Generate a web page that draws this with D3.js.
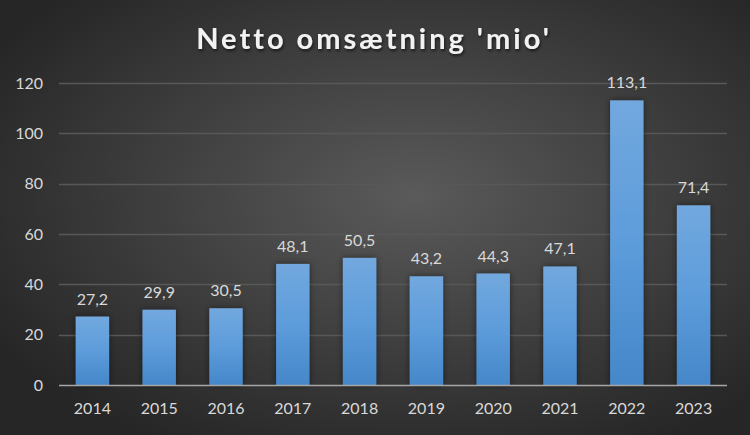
<!DOCTYPE html>
<html><head><meta charset="utf-8">
<script src="https://cdn.jsdelivr.net/npm/d3@7"></script>
<style>html,body{margin:0;padding:0;background:#333;}svg{display:block;}</style>
</head><body>
<script>
const years = ["2014","2015","2016","2017","2018","2019","2020","2021","2022","2023"];
const values = [27.2, 29.9, 30.5, 48.1, 50.5, 43.2, 44.3, 47.1, 113.1, 71.4];
const yTicks = [0, 20, 40, 60, 80, 100, 120];
const title = "Netto omsætning 'mio'";

const W = 750, H = 435;
const m = {left: 59, right: 23, top: 83, bottom: 50};
const svg = d3.select("body").append("svg").attr("width", W).attr("height", H);
const defs = svg.append("defs");
const rg = defs.append("radialGradient").attr("id","bg").attr("cx","55%").attr("cy","45%").attr("r","65%");
rg.append("stop").attr("offset","0%").attr("stop-color","#5a5a5a");
rg.append("stop").attr("offset","100%").attr("stop-color","#262626");
const bg = defs.append("linearGradient").attr("id","bar").attr("x1",0).attr("y1",0).attr("x2",0).attr("y2",1);
bg.append("stop").attr("offset","0%").attr("stop-color","#72a8de");
bg.append("stop").attr("offset","50%").attr("stop-color","#5d9cdb");
bg.append("stop").attr("offset","100%").attr("stop-color","#4587c9");
const f = defs.append("filter").attr("id","sh").attr("x","-30%").attr("y","-10%").attr("width","160%").attr("height","120%");
f.append("feDropShadow").attr("dx",0).attr("dy",0).attr("stdDeviation",3).attr("flood-color","#000").attr("flood-opacity",0.5);
const tf = defs.append("filter").attr("id","tsh");
tf.append("feDropShadow").attr("dx",1).attr("dy",2).attr("stdDeviation",1.5).attr("flood-color","#000").attr("flood-opacity",0.6);

svg.append("rect").attr("width",W).attr("height",H).attr("fill","url(#bg)");

const x = d3.scaleBand().domain(years).range([m.left, W - m.right]).paddingInner(0.5).paddingOuter(0.25);
const y = d3.scaleLinear().domain([0,120]).range([H - m.bottom, m.top]);

// grid
svg.append("g").selectAll("line").data(yTicks.filter(d=>d>0)).join("line")
  .attr("x1", m.left).attr("x2", W - m.right)
  .attr("y1", d=>Math.round(y(d))+0.5).attr("y2", d=>Math.round(y(d))+0.5)
  .attr("stroke","#585858").attr("stroke-width",1.3);

// y axis labels
const yAxis = d3.axisLeft(y).tickValues(yTicks).tickSize(0).tickPadding(16);
const ya = svg.append("g").attr("transform",`translate(${m.left},0)`).call(yAxis);
ya.select(".domain").remove();
ya.selectAll("text").attr("fill","#d9d9d9").attr("font-family","Lato, 'Open Sans', sans-serif").attr("font-size",16);

// bars
svg.append("g").selectAll("rect").data(values).join("rect")
  .attr("x",(d,i)=>x(years[i])).attr("width",x.bandwidth())
  .attr("y",d=>y(d)).attr("height",d=>y(0)-y(d))
  .attr("fill","url(#bar)").attr("filter","url(#sh)");

// baseline
svg.append("line").attr("x1",m.left).attr("x2",W-m.right)
  .attr("y1",y(0)+0.5).attr("y2",y(0)+0.5).attr("stroke","#a6a6a6").attr("stroke-width",1.6);

// x axis
const xAxis = d3.axisBottom(x).tickSize(0).tickPadding(18);
const xa = svg.append("g").attr("transform",`translate(0,${y(0)})`).call(xAxis);
xa.select(".domain").remove();
xa.selectAll("text").attr("fill","#d9d9d9").attr("font-family","Lato, 'Open Sans', sans-serif").attr("font-size",16);

// value labels
svg.append("g").selectAll("text").data(values).join("text")
  .attr("x",(d,i)=>x(years[i])+x.bandwidth()/2).attr("y",d=>y(d)-12)
  .attr("text-anchor","middle").attr("fill","#d9d9d9")
  .attr("font-family","Lato, 'Open Sans', sans-serif").attr("font-size",16)
  .text(d=>d3.format(".1f")(d).replace(".",","));

// title
svg.append("text").attr("x", 374).attr("y", 49).attr("text-anchor","middle")
  .attr("fill","#f2f2f2").attr("font-family","Lato, 'Open Sans', sans-serif").attr("font-weight","bold")
  .attr("font-size",29).attr("letter-spacing",3).attr("filter","url(#tsh)").text(title);
</script>
</body></html>
